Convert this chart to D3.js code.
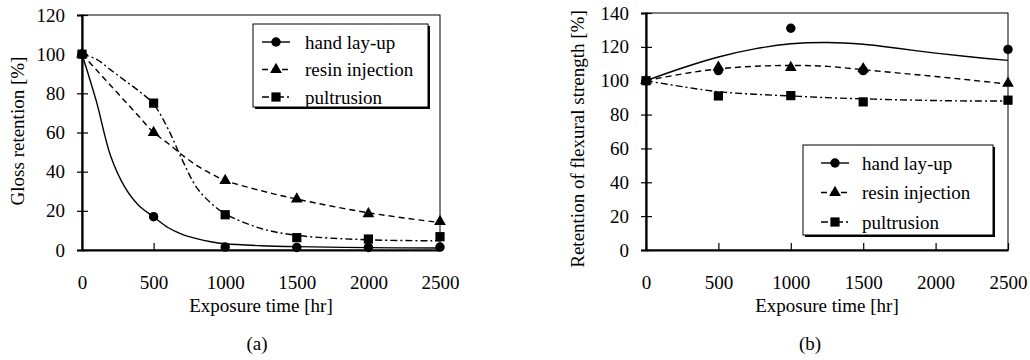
<!DOCTYPE html>
<meta charset="utf-8">
<head>
<style type="text/css">
  body { margin: 0; background: #fff; }
</style>
</head>
<script src="https://cdn.jsdelivr.net/npm/d3@7"></script>
<body>
<div id="vis"></div>
<script>
var width = 1030,
    height = 360;
var FONT = "'Liberation Serif'";

// ---- data ----
var seriesNames = ["hand lay-up", "resin injection", "pultrusion"];
var xTicks = [0, 500, 1000, 1500, 2000, 2500];

// (a) gloss retention, measured points
var glossTimes = [0, 500, 1000, 1500, 2000, 2500];
var glossHand  = [100, 17, 1.5, 1.3, 1.3, 1.5];
var glossResin = [100, 60, 35.5, 26, 18.5, 14.5];
var glossPult  = [100, 75, 18, 6.3, 5.6, 6.8];
// (a) fitted curves
var glossCurveTimes = [0, 100, 200, 300, 400, 500, 600, 700, 800, 900, 1000, 1250, 1500, 2000, 2500];
var glossHandCurve  = [100, 76, 48, 32, 22.5, 17, 11.5, 8, 5.8, 4.2, 3.2, 2.2, 1.7, 1.2, 1.0];
var glossResinCurve = [100, 92, 84, 76, 68, 60, 54.5, 48.5, 43.2, 39, 35.5, 30.3, 26, 19, 14];
var glossPultCurve  = [100, 97.5, 92, 86.5, 81, 74.5, 62, 46, 32, 24, 18.5, 11, 7.5, 5.2, 4.7];
var glossYTicks = [0, 20, 40, 60, 80, 100, 120];

// (b) retention of flexural strength, measured points
var flexTimes = [0, 500, 1000, 1500, 2500];
var flexHand  = [100, 106, 131, 106, 118.5];
var flexResin = [100, 108, 107.8, 107, 98.5];
var flexPult  = [100, 91, 91.2, 87.5, 88.5];
// (b) fitted curves
var flexCurveTimes = [0, 250, 500, 750, 1000, 1250, 1500, 1750, 2000, 2250, 2500];
var flexHandCurve  = [100, 107.5, 114, 118.8, 121.8, 122.6, 121.5, 119, 116.3, 114, 112];
var flexResinCurve = [100, 104, 107, 108.5, 109, 108.5, 106.5, 104.5, 102.5, 100.3, 98];
var flexPultCurve  = [100, 96.5, 93.5, 92, 91, 90, 89.3, 88.7, 88.3, 88, 88];
var flexYTicks = [0, 20, 40, 60, 80, 100, 120, 140];

// styles per series
var symbols = [d3.symbolCircle, d3.symbolTriangle, d3.symbolSquare];
var symbolSizes = [70, 60, 85];
var dashes = [null, "6,4", "7,3,2,3"];

var svg = d3.select("#vis").append("svg")
    .attr("width", width)
    .attr("height", height);

function txt(sel) {
  return sel.style("font-family", FONT).style("font-size", "19px").attr("fill", "#000");
}

function drawPanel(p) {
  var g = svg.append("g");
  var x = d3.scaleLinear().domain([0, 2500]).range([p.left, p.right]);
  var y = d3.scaleLinear().domain([0, p.yMax]).range([p.bottom, p.top]);

  // thin frame (top / right)
  g.append("rect")
    .attr("x", p.left).attr("y", p.top)
    .attr("width", p.right - p.left).attr("height", p.bottom - p.top)
    .attr("fill", "none").attr("stroke", "#000").attr("stroke-width", 1);

  // y axis, cross ticks
  var yAxis = g.append("g")
    .attr("transform", "translate(" + p.left + ",0)")
    .call(d3.axisLeft(y).tickValues(p.yTicks).tickSize(5).tickFormat(d3.format("d")));
  yAxis.selectAll(".tick").append("line")
    .attr("x1", 0).attr("x2", 6).attr("stroke", "#000");
  txt(yAxis.selectAll("text")).attr("x", -17);

  // x axis, ticks pointing inward
  var xAxis = g.append("g")
    .attr("transform", "translate(0," + p.bottom + ")")
    .call(d3.axisBottom(x).tickValues(xTicks).tickSizeInner(-7).tickSizeOuter(0)
      .tickFormat(d3.format("d")));
  txt(xAxis.selectAll("text")).attr("y", 32).attr("dy", "0.35em");

  g.selectAll(".domain").attr("stroke-width", 2.2).attr("stroke", "#000");
  g.selectAll(".tick line").attr("stroke-width", 1.2);

  // axis titles
  txt(g.append("text"))
    .attr("text-anchor", "middle")
    .attr("transform", "translate(" + p.yLabelX + "," + p.yLabelY + ") rotate(-90)")
    .attr("dy", "0.35em")
    .text(p.yLabel);
  txt(g.append("text"))
    .attr("text-anchor", "middle")
    .attr("x", (p.left + p.right) / 2).attr("y", 305).attr("dy", "0.35em")
    .text("Exposure time [hr]");
  txt(g.append("text"))
    .attr("text-anchor", "middle")
    .attr("x", p.tagX).attr("y", 343).attr("dy", "0.35em")
    .text(p.tag);

  var line = d3.line()
    .x(function(d) { return x(d[0]); })
    .y(function(d) { return y(d[1]); })
    .curve(d3.curveCatmullRom);

  p.curves.forEach(function(c, i) {
    var pts = p.curveTimes.map(function(t, k) { return [t, c[k]]; });
    g.append("path")
      .attr("d", line(pts))
      .attr("fill", "none")
      .attr("stroke", "#000")
      .attr("stroke-width", 1.4)
      .attr("stroke-dasharray", dashes[i]);
  });

  p.points.forEach(function(s, i) {
    g.selectAll(".m" + i)
      .data(p.times.map(function(t, k) { return [t, s[k]]; }))
      .enter().append("path")
      .attr("class", "m" + i)
      .attr("transform", function(d) { return "translate(" + x(d[0]) + "," + y(d[1]) + ")"; })
      .attr("d", d3.symbol().type(symbols[i]).size(symbolSizes[i]))
      .attr("fill", "#000");
  });

  // legend with drop shadow
  var L = p.legend;
  g.append("rect")
    .attr("x", L.x + 2).attr("y", L.y + 2).attr("width", L.w).attr("height", L.h)
    .attr("fill", "#000");
  g.append("rect")
    .attr("x", L.x).attr("y", L.y).attr("width", L.w).attr("height", L.h)
    .attr("fill", "#fff").attr("stroke", "#000").attr("stroke-width", 1);
  seriesNames.forEach(function(name, i) {
    var ry = L.y + L.first + i * L.step;
    g.append("line")
      .attr("x1", L.x + L.sym - 14).attr("x2", L.x + L.sym + 14)
      .attr("y1", ry).attr("y2", ry)
      .attr("stroke", "#000").attr("stroke-width", 1.4)
      .attr("stroke-dasharray", dashes[i]);
    g.append("path")
      .attr("transform", "translate(" + (L.x + L.sym) + "," + ry + ")")
      .attr("d", d3.symbol().type(symbols[i]).size(symbolSizes[i]))
      .attr("fill", "#000");
    txt(g.append("text"))
      .attr("x", L.x + L.text).attr("y", ry).attr("dy", "0.35em")
      .text(name);
  });
}

drawPanel({
  left: 82, right: 440, top: 15, bottom: 250,
  yMax: 120, yTicks: glossYTicks,
  yLabel: "Gloss retention [%]", yLabelX: 17, yLabelY: 131,
  tag: "(a)", tagX: 257,
  times: glossTimes, points: [glossHand, glossResin, glossPult],
  curveTimes: glossCurveTimes, curves: [glossHandCurve, glossResinCurve, glossPultCurve],
  legend: {x: 253, y: 24, w: 175, h: 83, first: 18, step: 27.5, sym: 23, text: 52}
});

drawPanel({
  left: 646, right: 1008, top: 13, bottom: 250,
  yMax: 140, yTicks: flexYTicks,
  yLabel: "Retention of flexural strength [%]", yLabelX: 577, yLabelY: 139,
  tag: "(b)", tagX: 810,
  times: flexTimes, points: [flexHand, flexResin, flexPult],
  curveTimes: flexCurveTimes, curves: [flexHandCurve, flexResinCurve, flexPultCurve],
  legend: {x: 803, y: 145, w: 190, h: 90, first: 18, step: 29.5, sym: 32, text: 59}
});
</script>
</body>
